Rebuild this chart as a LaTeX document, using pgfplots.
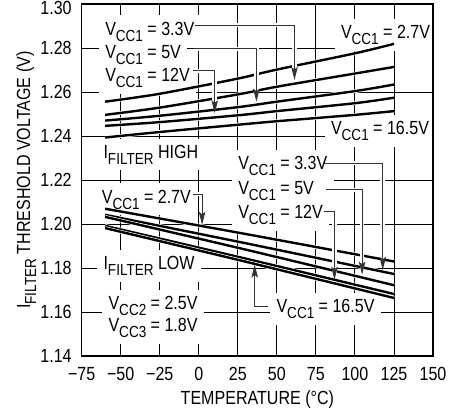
\documentclass[border=0pt]{standalone}
\usepackage{pgfplots}
\pgfplotsset{compat=1.18}
\usepackage{pgfplotstable}
\usepackage{fontspec}
\setmainfont{Liberation Sans}[FakeStretch=0.845]
\usetikzlibrary{arrows.meta}
\newcommand{\sub}[1]{\raisebox{-6pt}{\fontsize{16}{16}\selectfont #1}}
\newcommand{\VCC}[1]{V\sub{CC#1}}
\newcommand{\IF}{I\sub{FILTER}}
\newcommand{\leader}[1]{%
  \draw[white, line width=4.5pt, shorten >=6pt] #1;
  \draw[black!80, line width=0.9pt, -{Stealth[length=13pt,width=6.5pt,inset=2.5pt]}] #1;}
\newcommand{\labbg}[3]{\node[anchor=base west, fill=white] at (axis cs:#1,#2) {\phantom{#3}};}
\newcommand{\lab}[3]{\node[anchor=base west] at (axis cs:#1,#2) {#3};}

% I_FILTER HIGH
\pgfplotstableread{
T V
-60 1.2557
-25 1.2593
25 1.2662
50 1.2703
100 1.2777
125 1.2820
}\hiA
\pgfplotstableread{
T V
-60 1.2497
-25 1.2530
25 1.2590
50 1.2625
100 1.2685
125 1.2715
}\hiB
\pgfplotstableread{
T V
-60 1.2471
-25 1.2493
25 1.2532
50 1.2557
100 1.2605
125 1.2635
}\hiC
\pgfplotstableread{
T V
-60 1.2447
-25 1.2464
25 1.2495
50 1.2514
100 1.2550
125 1.2575
}\hiD
\pgfplotstableread{
T V
-60 1.2394
-25 1.2419
25 1.2452
50 1.2468
100 1.2497
125 1.2514
}\hiE
% I_FILTER LOW
\pgfplotstableread{
T V
-60 1.2070
30 1.1955
125 1.1830
}\loA
\pgfplotstableread{
T V
-60 1.2042
30 1.1913
125 1.1773
}\loB
\pgfplotstableread{
T V
-60 1.2033
30 1.1884
125 1.1722
}\loC
\pgfplotstableread{
T V
-60 1.1992
30 1.1843
125 1.1682
}\loD
\pgfplotstableread{
T V
-60 1.1982
30 1.1829
125 1.1664
}\loE

\pgfplotsset{dataline/.style={black, line width=2.4pt, smooth, tension=0.5, preaction={draw, white, line width=3.7pt}}}

\begin{document}
\fontsize{19}{22}\selectfont
\begin{tikzpicture}
\begin{axis}[
  scale only axis, width=351.3pt, height=351.7pt,
  xmin=-75, xmax=150, ymin=1.14, ymax=1.30,
  xtick={-75,-50,-25,0,25,50,75,100,125,150},
  xticklabels={−75,−50,−25,0,25,50,75,100,125,150},
  ytick={1.14,1.16,1.18,1.20,1.22,1.24,1.26,1.28,1.30},
  yticklabels={1.14,1.16,1.18,1.20,1.22,1.24,1.26,1.28,{}},
  grid=major, major grid style={black, line width=0.9pt},
  axis line style={line width=1.6pt},
  major tick length=0pt,
  xticklabel style={yshift=-5pt},
  yticklabel style={xshift=-3.5pt},
  xlabel={TEMPERATURE (°C)},
  ylabel={\IF{} THRESHOLD VOLTAGE (V)},
  xlabel style={at={(axis description cs:0.5,0)}, anchor=center, yshift=-44pt},
  ylabel style={at={(axis description cs:-0.158,0.5)}, anchor=center},
  clip=false,
  every node/.append style={inner xsep=3pt, inner ysep=1pt},
]
\coordinate (ll) at (rel axis cs:0,0);
\coordinate (ur) at (rel axis cs:1,1);
\node[anchor=east, xshift=-3.5pt, yshift=-4pt] at (rel axis cs:0,1) {1.30};
% label backgrounds (white boxes over grid)
\labbg{-64.1}{1.2860}{\VCC1 = 3.3V}
\labbg{-64.1}{1.2755}{\VCC1 = 5V}
\labbg{-64.1}{1.2648}{\VCC1 = 12V}
\labbg{86.9}{1.2845}{\VCC1 = 2.7V}
\labbg{80.5}{1.2406}{\VCC1 = 16.5V}
\labbg{-65.2}{1.2300}{\IF{} HIGH}
\labbg{21.1}{1.2247}{\VCC1 = 3.3V}
\labbg{21.1}{1.2133}{\VCC1 = 5V}
\labbg{21.1}{1.2027}{\VCC1 = 12V}
\labbg{-66.3}{1.2096}{\VCC1 = 2.7V}
\labbg{45.6}{1.1596}{\VCC1 = 16.5V}
\labbg{-65.2}{1.1792}{\IF{} LOW}
\labbg{-62.0}{1.1611}{\VCC2 = 2.5V}
\labbg{-62.0}{1.1512}{\VCC3 = 1.8V}
% data
\addplot[dataline] table[x=T, y=V] {\hiA};
\addplot[dataline] table[x=T, y=V] {\hiB};
\addplot[dataline] table[x=T, y=V] {\hiC};
\addplot[dataline] table[x=T, y=V] {\hiD};
\addplot[dataline] table[x=T, y=V] {\hiE};
\addplot[dataline] table[x=T, y=V] {\loA};
\addplot[dataline] table[x=T, y=V] {\loB};
\addplot[dataline] table[x=T, y=V] {\loC};
\addplot[dataline] table[x=T, y=V] {\loD};
\addplot[dataline] table[x=T, y=V] {\loE};
% leaders
\leader{(axis cs:-2.5,1.2906) -- (axis cs:61.3,1.2906) -- (axis cs:61.3,1.2656)}
\leader{(axis cs:-3.9,1.2797) -- (axis cs:36.9,1.2797) -- (axis cs:36.9,1.2557)}
\leader{(axis cs:-3.9,1.2697) -- (axis cs:10.2,1.2697) -- (axis cs:10.2,1.2504)}
\leader{(axis cs:-3.7,1.2136) -- (axis cs:2.1,1.2136) -- (axis cs:2.1,1.1997)}
\leader{(axis cs:80.5,1.2277) -- (axis cs:117.8,1.2277) -- (axis cs:117.8,1.1792)}
\leader{(axis cs:81.6,1.2156) -- (axis cs:104.6,1.2156) -- (axis cs:104.6,1.1770)}
\leader{(axis cs:80.5,1.2057) -- (axis cs:86.9,1.2057) -- (axis cs:86.9,1.1747)}
\leader{(axis cs:44.1,1.1626) -- (axis cs:35.8,1.1626) -- (axis cs:35.8,1.1816)}
% label texts
\lab{-64.1}{1.2860}{\VCC1 = 3.3V}
\lab{-64.1}{1.2755}{\VCC1 = 5V}
\lab{-64.1}{1.2648}{\VCC1 = 12V}
\lab{86.9}{1.2845}{\VCC1 = 2.7V}
\lab{80.5}{1.2406}{\VCC1 = 16.5V}
\lab{-65.2}{1.2300}{\IF{} HIGH}
\lab{21.1}{1.2247}{\VCC1 = 3.3V}
\lab{21.1}{1.2133}{\VCC1 = 5V}
\lab{21.1}{1.2027}{\VCC1 = 12V}
\lab{-66.3}{1.2096}{\VCC1 = 2.7V}
\lab{45.6}{1.1596}{\VCC1 = 16.5V}
\lab{-65.2}{1.1792}{\IF{} LOW}
\lab{-62.0}{1.1611}{\VCC2 = 2.5V}
\lab{-62.0}{1.1512}{\VCC3 = 1.8V}
\draw[line width=1.6pt] (rel axis cs:0,0) rectangle (rel axis cs:1,1);
\end{axis}
\pgfresetboundingbox
\path[use as bounding box] ([shift={(-81.7pt,-63pt)}]ll) rectangle ([shift={(29pt,4.3pt)}]ur);
\end{tikzpicture}
\end{document}
